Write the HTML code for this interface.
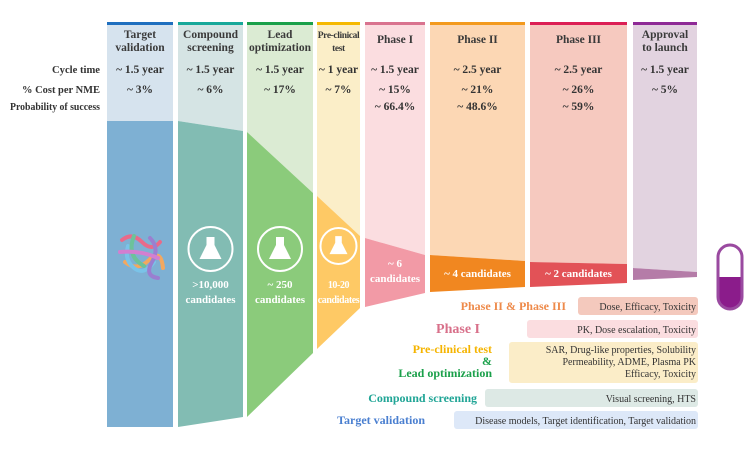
<!DOCTYPE html>
<html><head><meta charset="utf-8"><style>
body{margin:0;background:#fff;}
svg{display:block;font-family:"Liberation Serif",serif;font-weight:bold;}
</style></head><body>
<svg id="c" width="755" height="456" viewBox="0 0 755 456" xmlns="http://www.w3.org/2000/svg"></svg>
<script>
const stages=["Target validation","Compound screening","Lead optimization","Pre-clinical test","Phase I","Phase II","Phase III","Approval to launch"];
const titleLines=[["Target","validation"],["Compound","screening"],["Lead","optimization"],["Pre-clinical","test"],["Phase I"],["Phase II"],["Phase III"],["Approval","to launch"]];
const cycleTimes=["~ 1.5 year","~ 1.5 year","~ 1.5 year","~ 1 year","~ 1.5 year","~ 2.5 year","~ 2.5 year","~ 1.5 year"];
const costs=["~ 3%","~ 6%","~ 17%","~ 7%","~ 15%","~ 21%","~ 26%","~ 5%"];
const probs=["","","","","~ 66.4%","~ 48.6%","~ 59%",""];
const candidates=[[],[">10,000","candidates"],["~ 250","candidates"],["10-20","candidates"],["~ 6","candidates"],["~ 4 candidates"],["~ 2 candidates"],[]];
// layout
const cx0=[107,178,247,317,365,430,530,633], cx1=[173,243,313,360,425,525,627,697];
const topL=[121,121,132,196,238,255,262,268], topR=[121,131,193,236,255,261,264,272];
const botL=[427,427,417,349,307,292,287,280], botR=[427,417,353,308,293,287,283,277];
const barC=["#1f6fbf","#17a89a","#1aa04a","#f5b800","#d9738f","#f39a1e","#dc1f55","#8e2a96"];
const lightC=["#d6e3ee","#d5e4e4","#dbebd3","#fbeec8","#fbdde0","#fcd7b4","#f6c9bf","#e2d3e0"];
const darkC=["#7eb0d3","#82bcb3","#8bcb7b","#fec965","#f29aa6","#f18720","#e25257","#b57ca8"];
const S="http://www.w3.org/2000/svg", svg=document.getElementById('c');
function mk(t,a,p){const e=document.createElementNS(S,t);for(const k in a)e.setAttribute(k,a[k]);(p||svg).appendChild(e);return e;}
function tx(x,y,s,size,fill,anchor){const e=mk('text',{x:x,y:y,'font-size':size,fill:fill,'text-anchor':anchor||'middle'});e.textContent=s;return e;}
stages.forEach((s,i)=>{
  const g=mk('g',{});
  
  
  const bar=mk('rect',{x:cx0[i],y:22,width:cx1[i]-cx0[i],height:3,fill:barC[i]},g);
  
  
  const bg=mk('polygon',{points:`${cx0[i]},25 ${cx1[i]},25 ${cx1[i]},${topR[i]} ${cx0[i]},${topL[i]}`,fill:lightC[i]},g);
  
  
  const f=mk('polygon',{points:`${cx0[i]},${topL[i]} ${cx1[i]},${topR[i]} ${cx1[i]},${botR[i]} ${cx0[i]},${botL[i]}`,fill:darkC[i]},g);
  
  
  const m=(cx0[i]+cx1[i])/2;
  const tl=titleLines[i];
  const small=i===3;
  tl.forEach((l,j)=>{const t=tx(m,(tl.length==1?43:38)+j*13,l,small?9.5:11.5,'#3a3a3a');if(small)t.setAttribute('letter-spacing','-0.4');
    
    });
  const c1=tx(m,73,cycleTimes[i],11.5,'#333');
  
  
  const c2=tx(m,93,costs[i],11.5,'#333');
  
  
  if(probs[i]){const c3=tx(m,110,probs[i],11.5,'#333');
    
    }
  const cd=candidates[i];
  if(cd.length){
    const y0=[0,288,288,288,267,277,277][i];
    cd.forEach((l,j)=>{const t=tx(m,y0+j*15,l,i==3?10:11,'#fff');
      if(i==3)t.setAttribute('letter-spacing','-0.4');
      
      });
  }
  if(i>=1&&i<=3){
    const cy=i==3?246:249, r=i==3?18:22;
    const fl=mk('g',{},g);
    
    
    mk('circle',{cx:m,cy:cy,r:r,fill:'none',stroke:'#fff','stroke-width':2},fl);
    const k=r/22;
    mk('path',{d:`M${m-4*k},${cy-12*k} h${8*k} v${8*k} l${7*k},${14*k} h${-22*k} l${7*k},${-14*k} z`,fill:'#fff'},fl);
  }
});
// row labels
[["Cycle time",73,48],["% Cost per NME",93,78],["Probability of success",110,90]].forEach(r=>{
  const t=tx(100,r[1],r[0],11,'#333','end');
  t.setAttribute('textLength',r[2]);
  t.setAttribute('lengthAdjust','spacingAndGlyphs');
  
  
});
// protein blob
const pb=mk('g',{});


[["#e86a8a","M122,240 q10,-8 20,2 t18,0"],["#f3a860","M125,262 q12,10 24,-2 t14,8"],["#7ac3e8","M128,246 q-4,14 6,22 t20,-6"],["#9a7fd0","M150,238 q10,10 2,24 t6,16"],["#6cc29a","M134,236 q-8,20 10,30"],["#d37fd0","M120,252 q20,-2 38,6"]].forEach(p=>mk('path',{d:p[1],fill:'none',stroke:p[0],'stroke-width':4,'stroke-linecap':'round'},pb));
// pill
const pill=mk('g',{});


mk('path',{d:'M718,277 v20 a12,12 0 0 0 24,0 v-20 z',fill:'#8b1c8b'},pill);
mk('rect',{x:718,y:245,width:24,height:64,rx:12,fill:'none',stroke:'#9a4aa0','stroke-width':3},pill);
// legend rows
const legLabels=["Phase II & Phase III","Phase I","Compound screening","Target validation"];
const legDesc=[["Dose, Efficacy, Toxicity"],["PK, Dose escalation, Toxicity"],["Visual screening, HTS"],["Disease models, Target identification, Target validation"]];
const legColor=["#ee8a4a","#d8708a","#20a596","#4a7fd0"];
const legBox=["#f4c9bd","#fbdde0","#dde9e5","#dde8f8"];
const boxX=[578,527,485,454], boxY=[297,320,389,411], labX=[566,480,477,425];
legLabels.forEach((l,i)=>{
  const b=mk('rect',{x:boxX[i],y:boxY[i],width:698-boxX[i],height:18,rx:3,fill:legBox[i]});
  
  
  const d=tx(696,boxY[i]+13,legDesc[i][0],10,'#333','end');d.setAttribute('font-weight','normal');
  
  
  const t=tx(labX[i],boxY[i]+13,l,i==1?14:12,legColor[i],'end');
  
  
});
const pb2=mk('rect',{x:509,y:342,width:189,height:41,rx:3,fill:'#fbedc8'});


["SAR, Drug-like properties, Solubility","Permeability, ADME, Plasma PK","Efficacy, Toxicity"].forEach((s,j)=>{const d=tx(696,353+j*12,s,10,'#333','end');d.setAttribute('font-weight','normal');
  
  });
[["Pre-clinical test","#f5b400",353],["&","#1aa04a",365],["Lead optimization","#1aa04a",377]].forEach(r=>{
  const t=tx(492,r[2],r[0],12,r[1],'end');
  
  
});
</script>
</body></html>
